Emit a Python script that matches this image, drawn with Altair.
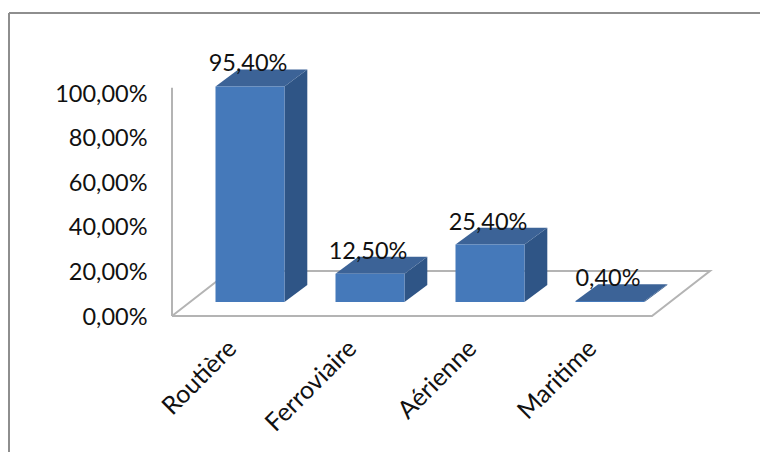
import altair as alt
import pandas as pd

# Transport modes and their share
categories = ["Routière", "Ferroviaire", "Aérienne", "Maritime"]
shares = [95.4, 12.5, 25.4, 0.4]
tick_values = [0, 20, 40, 60, 80, 100]

# Oblique projection of the columns, in axis units
half_width = 0.2875
depth_x = 0.19
depth_y = 7.5
lift = 6.2
floor_corners_x = [-0.65, 3.35, 3.833, -0.167, -0.65]
floor_corners_y = [0, 0, 19.9, 19.9, 0]
wall_top = 101

FONT = "Lato"
FONT_SIZE = 23.5
FRONT = "#4579ba"
TOP = "#3c6397"
SIDE = "#2f5586"
GREY = "#b4b4b4"
FRAME = "#8e8e8e"


def percent(value):
    return f"{value:.2f}".replace(".", ",") + "%"


front_rows, top_rows, side_rows, text_rows = [], [], [], []
for i, (name, v) in enumerate(zip(categories, shares)):
    left, right = i - half_width, i + half_width
    bottom, top = lift, lift + v
    front_rows.append({"pos": left, "pos2": right, "low": bottom, "high": top})
    for x, low, high in [
        (left, top, top),
        (left + depth_x, top, top + depth_y),
        (right, top, top + depth_y),
        (right + depth_x, top + depth_y, top + depth_y),
    ]:
        top_rows.append({"cat": name, "pos": x, "low": low, "high": high})
    for x, low, high in [
        (right, bottom, top),
        (right + depth_x, bottom + depth_y, top + depth_y),
    ]:
        side_rows.append({"cat": name, "pos": x, "low": low, "high": high})
    text_rows.append({"pos": i, "level": top + depth_y, "label": percent(v)})

floor_rows = [
    {"pos": x, "level": y, "step": k}
    for k, (x, y) in enumerate(zip(floor_corners_x, floor_corners_y))
]

x_scale = alt.Scale(domain=[-0.65, 3.85], nice=False, zero=False)
y_scale = alt.Scale(domain=[0, 276 / 2.26], nice=False, zero=False)
label_scale = alt.Scale(domain=[0, 276 / 2.23], nice=False, zero=False)

names_js = "[" + ",".join(f"'{c}'" for c in categories) + "]"
x_axis = alt.Axis(
    values=[0, 1, 2, 3],
    labelExpr=f"{names_js}[datum.value]",
    labelAngle=-45,
    labelAlign="right",
    labelBaseline="middle",
    labelFont=FONT,
    labelFontSize=25,
    labelColor="#111111",
    labelPadding=28,
    labelOffset=-18,
    labelBound=False,
    labelFlush=False,
    labelOverlap=False,
    domain=False,
    ticks=False,
    grid=False,
    title=None,
)
y_axis = alt.Axis(
    orient="left",
    values=tick_values,
    labelExpr="replace(format(datum.value, '.2f'), '.', ',') + '%'",
    labelFont=FONT,
    labelFontSize=FONT_SIZE,
    labelColor="#111111",
    labelPadding=25,
    labelOffset=1,
    labelBound=False,
    labelFlush=False,
    labelOverlap=False,
    domain=False,
    ticks=False,
    grid=False,
    title=None,
)

X = alt.X("pos:Q", scale=x_scale, axis=x_axis)

floor = (
    alt.Chart(pd.DataFrame(floor_rows))
    .mark_line(color=GREY, strokeWidth=2)
    .encode(X, alt.Y("level:Q", scale=y_scale, axis=None), order="step:Q")
)
wall = (
    alt.Chart(pd.DataFrame({"pos": [-0.65], "low": [0], "high": [wall_top]}))
    .mark_rule(color=GREY, strokeWidth=2)
    .encode(X, alt.Y("low:Q", scale=y_scale, axis=None), alt.Y2("high:Q"))
)
side = (
    alt.Chart(pd.DataFrame(side_rows))
    .mark_area(color=SIDE, orient="vertical")
    .encode(X, alt.Y("low:Q", scale=y_scale, axis=None, stack=None), alt.Y2("high:Q"), detail="cat:N")
)
top_face = (
    alt.Chart(pd.DataFrame(top_rows))
    .mark_area(color=TOP, orient="vertical")
    .encode(X, alt.Y("low:Q", scale=y_scale, axis=None, stack=None), alt.Y2("high:Q"), detail="cat:N")
)
front = (
    alt.Chart(pd.DataFrame(front_rows))
    .mark_rect(color=FRONT)
    .encode(
        X,
        alt.X2("pos2:Q"),
        alt.Y("low:Q", scale=y_scale, axis=None),
        alt.Y2("high:Q"),
    )
)
value_labels = (
    alt.Chart(pd.DataFrame(text_rows))
    .mark_text(font=FONT, fontSize=FONT_SIZE, color="#111111", baseline="alphabetic", align="center", dx=-2, dy=2)
    .encode(X, alt.Y("level:Q", scale=y_scale, axis=None), text="label:N")
)

# The chart's outer border runs off the top-left of the page
border_top = (
    alt.Chart(pd.DataFrame({"a": [0]}))
    .mark_rule(color=FRAME, strokeWidth=2)
    .encode(x=alt.value(-163), x2=alt.value(600), y=alt.value(-27))
)
border_left = (
    alt.Chart(pd.DataFrame({"a": [0]}))
    .mark_rule(color=FRAME, strokeWidth=2)
    .encode(x=alt.value(-163), y=alt.value(-27), y2=alt.value(420))
)

scene = alt.layer(floor, wall, side, top_face, front, value_labels, border_top, border_left)

tick_layer = (
    alt.Chart(pd.DataFrame({"tick": tick_values}))
    .mark_point(opacity=0)
    .encode(x=alt.value(0), y=alt.Y("tick:Q", scale=label_scale, axis=y_axis))
)

chart = (
    alt.layer(scene, tick_layer)
    .resolve_scale(y="independent")
    .properties(
        width=540,
        height=276,
        padding={"left": 172, "top": 40, "right": 48, "bottom": 136},
        autosize=alt.AutoSizeParams(type="none"),
        background="white",
    )
    .configure_view(stroke=None)
)

chart.save("out.html", embed_options={"renderer": "svg", "actions": False})
